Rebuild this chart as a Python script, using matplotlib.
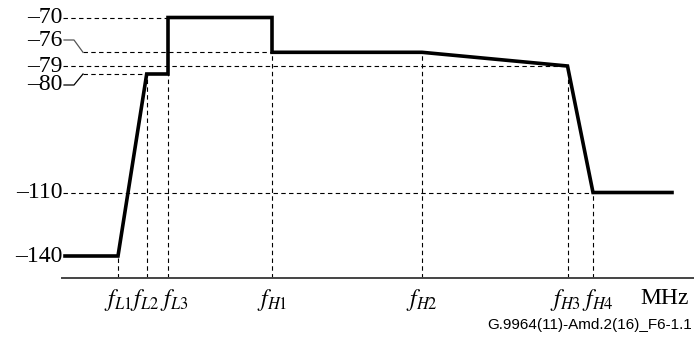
import numpy as np
import matplotlib.pyplot as plt

plt.rcParams['font.family'] = 'Liberation Serif'
plt.rcParams['mathtext.fontset'] = 'stix'

# niveles de la mascara (dBm/Hz) y su altura en el esquema (no lineal)
niveles = [-140, -110, -80, -79, -76, -70]
alturas = [21.7, 85.2, 203.7, 211.7, 225.4, 260.2]

# frecuencias de quiebre (posicion esquematica en el eje)
f_nombres = [r'$f_{\mathit{L1}}$', r'$f_{\mathit{L2}}$', r'$f_{\mathit{L3}}$', r'$f_{\mathit{H1}}$',
             r'$f_{\mathit{H2}}$', r'$f_{\mathit{H3}}$', r'$f_{\mathit{H4}}$']
f_pos = [118, 146.7, 168, 272, 422, 567.5, 593]
f_corr = [0, -2, 6, 0, 0, -2, 5]  # corrimiento de las etiquetas

# puntos de la mascara
mask_x = [65, 118, 146.7, 168, 168, 272, 272, 422, 567.5, 593, 672]
mask_y = [-140, -140, -80, -80, -70, -70, -76, -76, -79, -110, -110]

# valor de la mascara en cada frecuencia (para las guias verticales)
f_val = [-140, -80, -80, -76, -76, -79, -110]

# guias horizontales: nivel, x inicio, x fin
guias = [(-70, 63, 168), (-76, 83, 272), (-79, 63, 567.5), (-80, 83, 146.7), (-110, 63, 593)]

kx = [-150] + niveles + [-65]
ky = [0] + alturas + [277.7]


def fwd(v):
    return np.interp(v, kx, ky)


def inv(p):
    return np.interp(p, ky, kx)


fig = plt.figure(figsize=(6.94, 3.45), dpi=100)
ax = fig.add_axes([62 / 694, 67.3 / 345, (694 - 62) / 694, 277.7 / 345])
ax.set_yscale('function', functions=(fwd, inv))
ax.set_xlim(62, 694)
ax.set_ylim(-150, -65)

for s in ['top', 'right', 'left']:
    ax.spines[s].set_visible(False)
ax.spines['bottom'].set_color('#444444')
ax.spines['bottom'].set_linewidth(1.4)
ax.set_yticks([])
ax.set_xticks([])

for x, c, nombre in zip(f_pos, f_corr, f_nombres):
    ax.text(x + c, -22 / 277.7, nombre, ha='center', va='center', fontsize=17,
            transform=ax.get_xaxis_transform(), clip_on=False)

dash = dict(color='black', lw=0.8, ls=(0, (4, 3)))
for nivel, x0, x1 in guias:
    ax.plot([x0, x1], [nivel, nivel], **dash)
for x, v in zip(f_pos, f_val):
    ax.plot([x, x], [-150, v], **dash)

ax.plot(mask_x, mask_y, color='black', lw=2.6, solid_joinstyle='miter')

# etiquetas del eje y
desplaz = {-76: 12.3, -80: -11}
for nivel in niveles:
    d = desplaz.get(nivel, 0)
    yl = inv(fwd(nivel) + d)
    ax.text(62.5, yl, '\u2013' + str(abs(nivel)), ha='right', va='center', fontsize=17,
            clip_on=False)
    if d:
        ax.plot([64, 74, 83], [yl, yl, nivel], color='#555555' if nivel == -76 else 'black',
                lw=0.9, clip_on=False)

fig.text(665 / 694, 1 - 299 / 345, 'MHz', ha='center', va='center', fontsize=17)
fig.text(692 / 694, 1 - 325 / 345, 'G.9964(11)-Amd.2(16)_F6-1.1', ha='right', va='center',
         fontsize=11, family='Liberation Sans')

fig.savefig('out.png', dpi=100)
